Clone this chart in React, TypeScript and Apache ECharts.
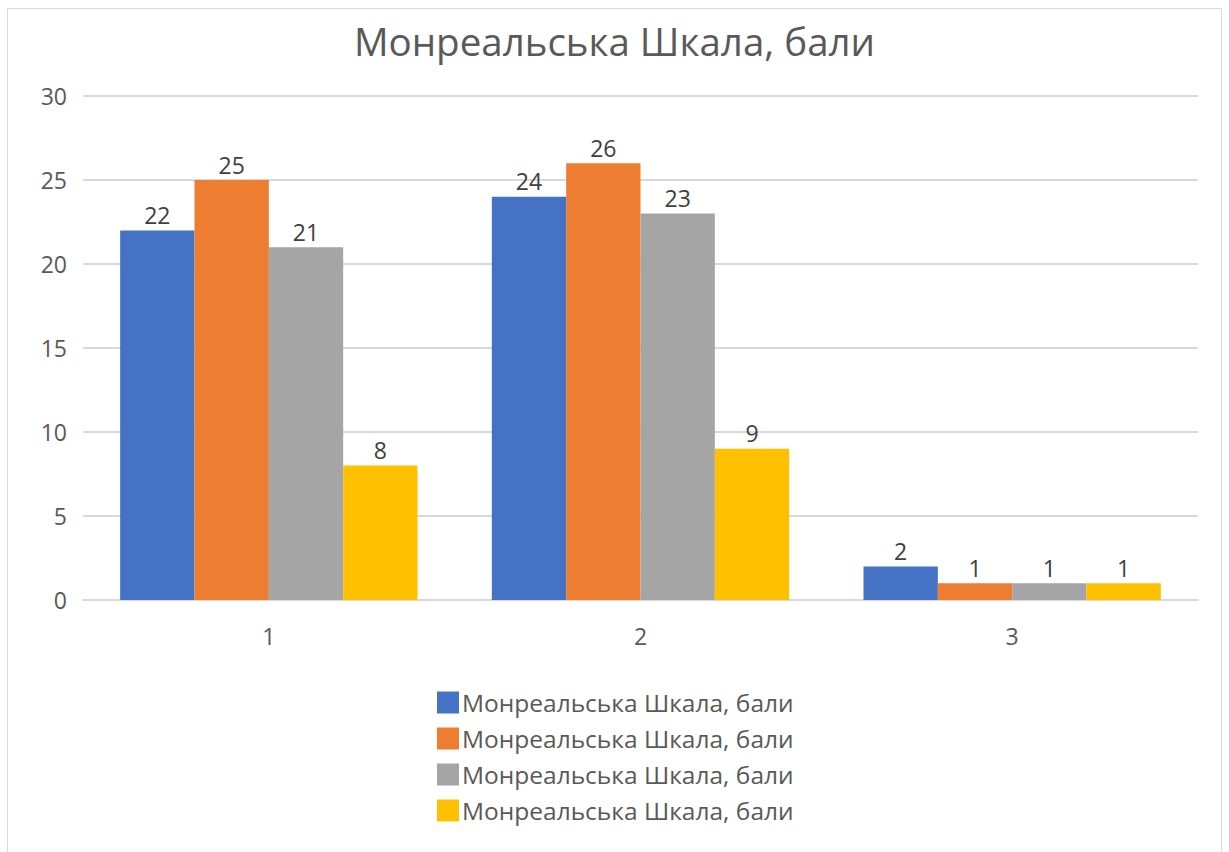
import React, { useEffect, useRef } from "react";
import * as echarts from "echarts";

const categories = ["1", "2", "3"];
const seriesName = "Монреальська Шкала, бали";
const seriesA = [22, 24, 2];
const seriesB = [25, 26, 1];
const seriesC = [21, 23, 1];
const seriesD = [8, 9, 1];
const colors = ["#4472C4", "#ED7D31", "#A5A5A5", "#FFC000"];
const yTicks = { min: 0, max: 30, interval: 5 };

export default function App() {
  const ref = useRef<HTMLDivElement>(null);
  useEffect(() => {
    if (!ref.current) return;
    const chart = echarts.init(ref.current, undefined, { renderer: "svg" });
    const font = "'Open Sans', 'Noto Sans', sans-serif";
    const all = [seriesA, seriesB, seriesC, seriesD];
    chart.setOption({
      animation: false,
      backgroundColor: "#ffffff",
      title: {
        text: seriesName,
        left: "center",
        top: 16,
        textStyle: { fontFamily: font, fontSize: 38.5, fontWeight: "normal", color: "#595959" },
      },
      graphic: [
        {
          type: "rect",
          shape: { x: 7.5, y: 8.5, width: 1214, height: 850 },
          style: { fill: "none", stroke: "#d9d9d9", lineWidth: 1 },
          silent: true,
        },
      ],
      grid: { left: 83, right: 31, top: 96, bottom: 252 },
      legend: {
        orient: "vertical",
        left: 432,
        top: 685,
        itemWidth: 22,
        itemHeight: 22,
        itemGap: 11,
        icon: "rect",
        textStyle: { fontFamily: font, fontSize: 24.5, lineHeight: 25, color: "#595959", padding: [0, 0, 0, -2] },
        data: all.map((_, i) => ({ name: seriesName + "\u200B".repeat(i) })),
      },
      xAxis: {
        type: "category",
        data: categories,
        axisLine: { lineStyle: { color: "#d9d9d9", width: 2 } },
        axisTick: { show: false },
        axisLabel: { fontFamily: font, fontSize: 23, color: "#595959", margin: 24 },
      },
      yAxis: {
        type: "value",
        min: yTicks.min,
        max: yTicks.max,
        interval: yTicks.interval,
        axisLine: { show: false },
        axisTick: { show: false },
        splitLine: { lineStyle: { color: "#d9d9d9", width: 2 } },
        axisLabel: { fontFamily: font, fontSize: 23, color: "#595959", margin: 16 },
      },
      series: all.map((d, i) => ({
        type: "bar",
        name: seriesName + "\u200B".repeat(i),
        data: d,
        barGap: "0%",
        barCategoryGap: "20%",
        itemStyle: { color: colors[i] },
        label: {
          show: true,
          position: "top",
          distance: 4,
          fontFamily: font,
          fontSize: 23,
          color: "#404040",
        },
      })),
    });
    return () => chart.dispose();
  }, []);
  return (
    <div
      ref={ref}
      style={{ position: "absolute", left: 0, top: 0, width: 1229, height: 852 }}
    />
  );
}
